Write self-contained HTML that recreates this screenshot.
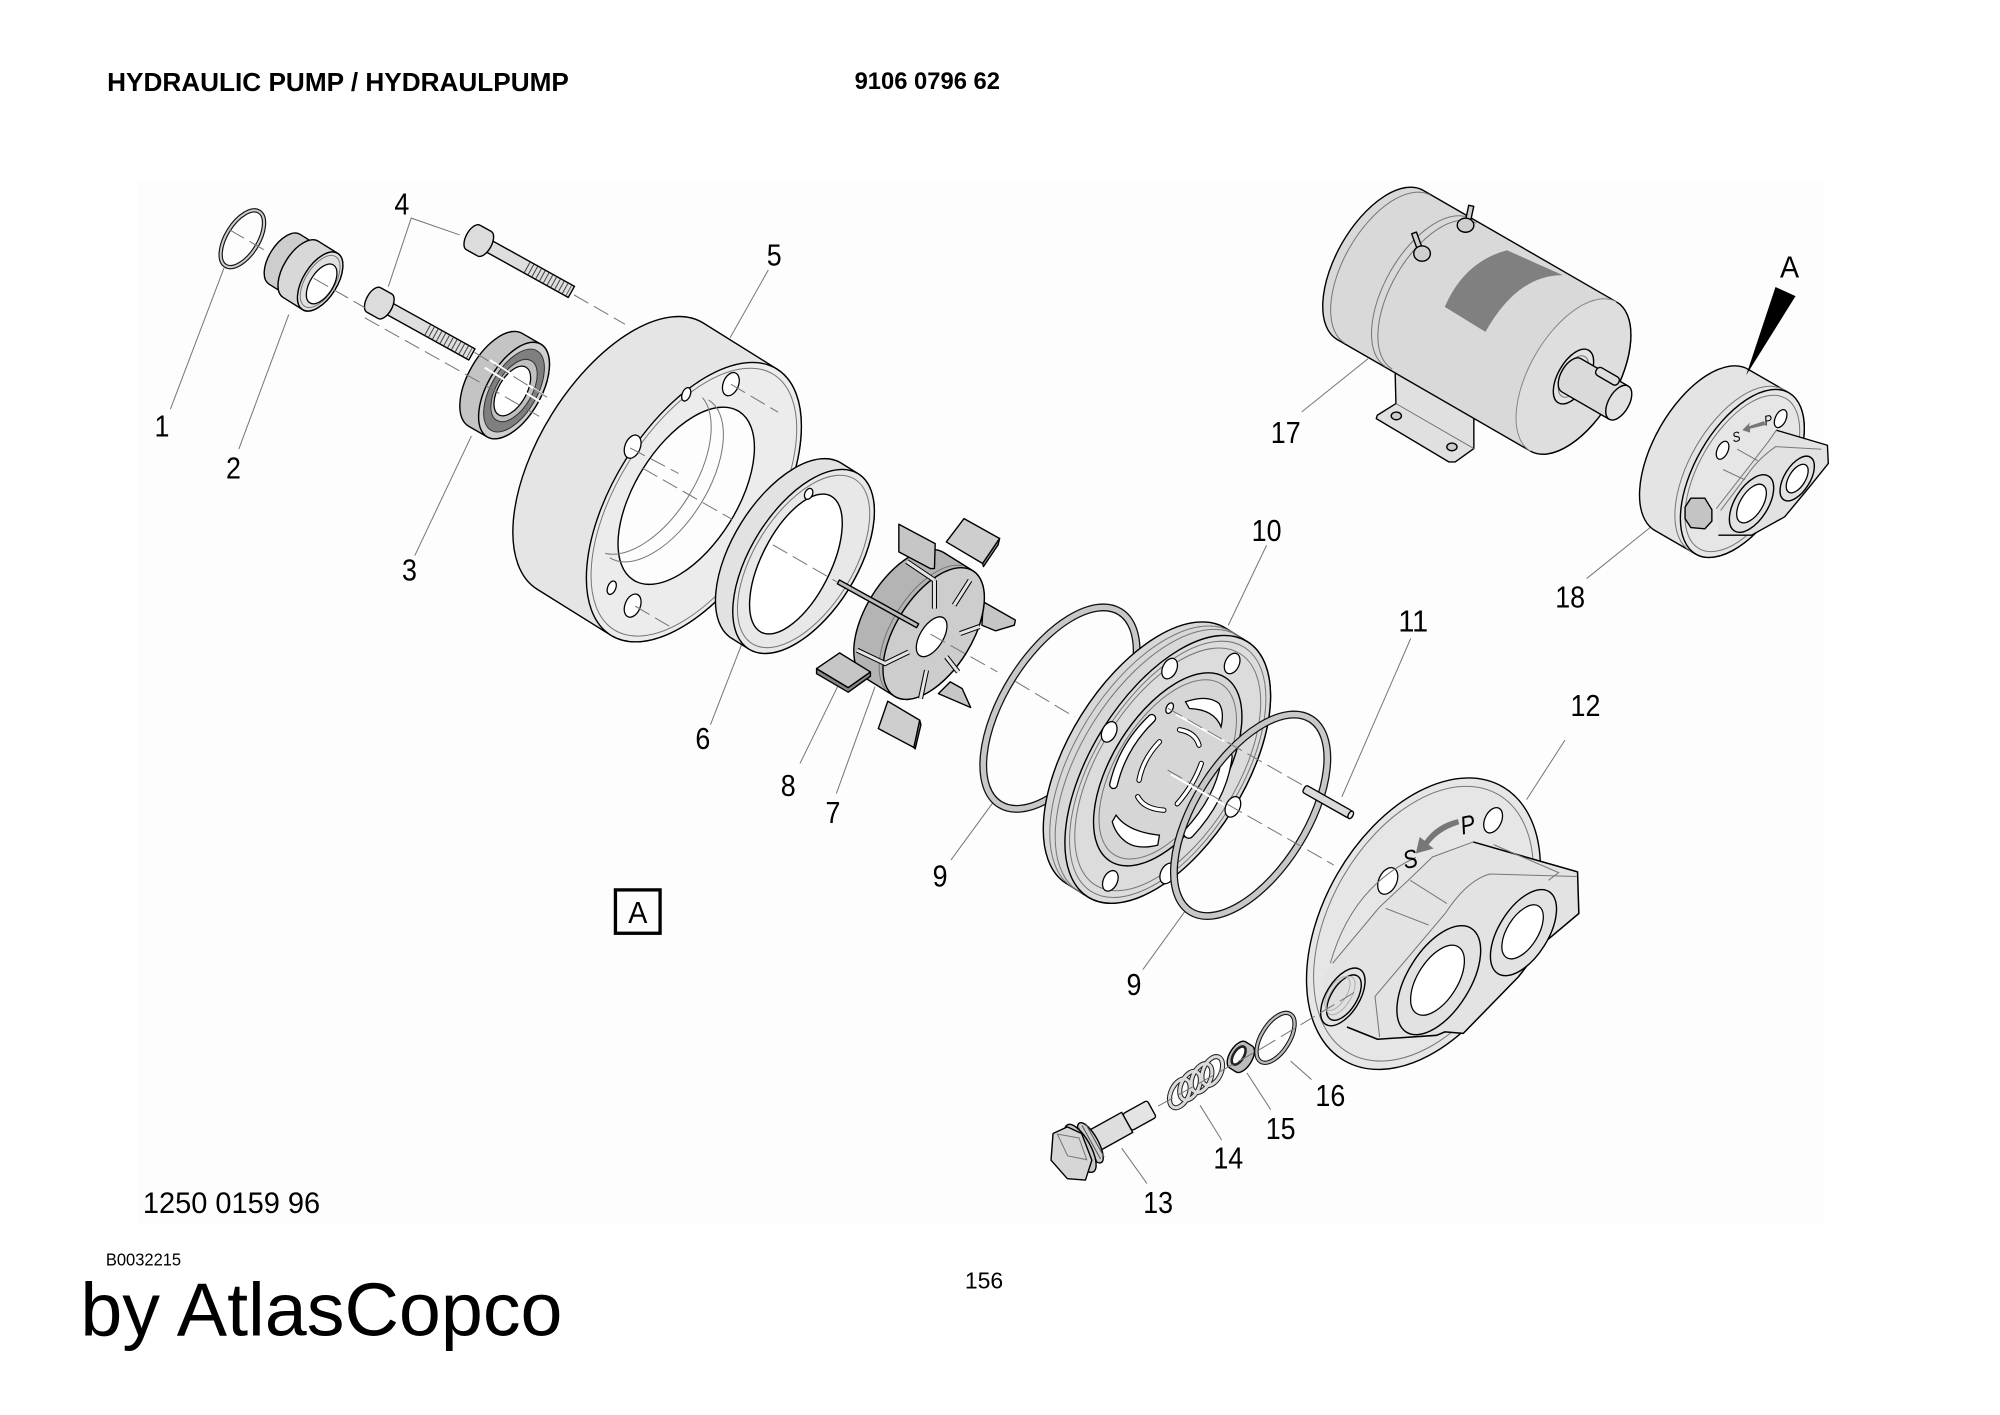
<!DOCTYPE html>
<html><head><meta charset="utf-8"><title>Hydraulic pump</title>
<style>
html,body{margin:0;padding:0;background:#fff}
svg{display:block}
text{font-family:"Liberation Sans",sans-serif;fill:#000}
.o{stroke:#000;stroke-width:1.1;stroke-linejoin:round}
.g{fill:none;stroke:#777;stroke-width:.8}
.l{stroke:#777;stroke-width:.8;fill:none}
.d{stroke:#777;stroke-width:.8;stroke-dasharray:13 5;fill:none}
.w{stroke:#fff;stroke-width:1.6;fill:none}
.h{fill:#fff;stroke:#000;stroke-width:1}
.n{font-size:24px;text-anchor:middle}
</style></head><body>
<svg xmlns="http://www.w3.org/2000/svg" width="2000" height="1415" viewBox="0 0 1568 1109">
<rect width="1568" height="1109" fill="#fff"/>
<rect x="108" y="140" width="1322" height="820" fill="#fdfdfd"/>

<!-- leaders -->
<g class="l">
<path d="M175.6 210L133.6 320.6M226.4 246.4L187.2 352M369.6 341.6L325.2 435.4M360.4 184L322.4 170.8L304.4 224.6M602.4 211.4L572.4 264.6M582.4 502.6L557 568M686 538.3L655.7 622M656.6 538.3L627.2 598.4M780 627L745.6 674M993 427.3L963 490M1106 500.4L1052 624.6M1227 580L1196.8 626.7M929.6 713.5L896 760M879.4 900L899.2 927.7M940.8 866.3L957.8 893.7M977.6 841L996.2 869.7M1011.8 831.6L1028.2 846.2M1072.6 281L1020.6 322.7M1295.9 411.6L1243.9 453.4"/>
</g>

<!-- part 1 -->
<g transform="translate(190,187) rotate(32)"><ellipse rx="12.6" ry="25" fill="none" stroke="#111" stroke-width="3.4"/><ellipse rx="12.6" ry="25" fill="none" stroke="#ccc" stroke-width="1.6"/></g>

<!-- part 2 -->
<g transform="translate(251,220.5) rotate(32)">
<path class="o" fill="#cdcdcd" d="M-33,-23 A12,23 0 0 0 -33,23 L-16,23 L-16,-23Z"/>
<path class="o" fill="#d8d8d8" d="M-18,-26 A13.3,26 0 0 0 -18,26 L0,26 A13.3,26 0 0 0 0,-26Z"/>
<ellipse class="o" rx="13.3" ry="26" fill="#e0e0e0"/>
<ellipse class="g" rx="11.5" ry="23"/>
<ellipse class="h" cx="2" cy="1" rx="9" ry="17.5" fill="#fafafa"/>
</g>

<!-- bolts -->
<g transform="translate(371,186) rotate(29)">
<rect class="o" x="10" y="-5" width="78" height="10" fill="#dedede"/>
<line x1="48" x2="86" y1="0" y2="0" stroke="#444" stroke-width="9" stroke-dasharray=".8 2.6"/>
<path class="o" fill="#dcdcdc" d="M0,-11 A5.6,11 0 0 0 0,11 L10,11 A5.6,11 0 0 0 10,-11Z"/>
</g>
<g transform="translate(293,235) rotate(29)">
<rect class="o" x="10" y="-5" width="78" height="10" fill="#dedede"/>
<line x1="48" x2="86" y1="0" y2="0" stroke="#444" stroke-width="9" stroke-dasharray=".8 2.6"/>
<path class="o" fill="#dcdcdc" d="M0,-11 A5.6,11 0 0 0 0,11 L10,11 A5.6,11 0 0 0 10,-11Z"/>
</g>

<!-- part 5 -->
<g transform="translate(544,393.5) rotate(32)">
<path class="o" fill="#e5e5e5" stroke-width="1.3" d="M-68,-123 A63,123 0 0 0 -68,123 L0,123 A63,123 0 0 0 0,-123Z"/>
<ellipse class="o" rx="63" ry="123" fill="#ececec"/>
<ellipse class="g" rx="60" ry="118"/>
</g>
<g transform="translate(538,388.5) rotate(32)">
<ellipse class="o" rx="40" ry="78" fill="#fdfdfd"/>
<path class="g" d="M-25,-73 A38,73 0 0 1 -25,73M-30,-72 A38,73 0 0 1 -30,72"/>
</g>
<g class="h">
<ellipse transform="translate(496,350) rotate(22)" rx="6" ry="9.5"/>
<ellipse transform="translate(573,301) rotate(22)" rx="6" ry="9.5"/>
<ellipse transform="translate(496,474.6) rotate(22)" rx="6" ry="9.5"/>
<ellipse transform="translate(538,309) rotate(22)" rx="3.2" ry="5.5"/>
<ellipse transform="translate(479.6,460.6) rotate(22)" rx="3.2" ry="5.5"/>
</g>

<!-- part 3 -->
<g transform="translate(403,306) rotate(30)">
<path class="o" fill="#c4c4c4" d="M-17,-42 A21,42 0 0 0 -17,42 L0,42 A21,42 0 0 0 0,-42Z"/>
<ellipse class="o" rx="21" ry="42" fill="#cfcfcf"/>
<ellipse rx="18" ry="36" fill="#7f7f7f" stroke="#333" stroke-width=".8"/>
<ellipse rx="14" ry="27" fill="#c0c0c0" stroke="#333" stroke-width=".8"/>
<ellipse class="h" cx="-1" cy="1" rx="11" ry="21.5"/>
</g>

<!-- part 6 -->
<g transform="translate(630,440) rotate(32)">
<path class="o" fill="#e2e2e2" stroke-width="1.2" d="M-16,-81 A41.5,81 0 0 0 -16,81 L0,81 A41.5,81 0 0 0 0,-81Z"/>
<ellipse class="o" rx="41.5" ry="81" fill="#e8e8e8"/>
<ellipse class="g" rx="38.5" ry="76"/>
</g>
<g transform="translate(624,442) rotate(27)">
<ellipse class="o" rx="27" ry="60" fill="#fff"/>
</g>
<ellipse class="h" transform="translate(634,387) rotate(25)" rx="3" ry="4.5" fill="#ccc"/>

<!-- part 7 / 8 rotor -->
<g class="o" fill="#c6c6c6">
<polygon points="771,471.7 796.1,486 795.2,490 780.6,494.4 769.8,490"/>
<polygon points="745,534.4 754.3,539.6 761,554.5 735.7,543.6"/>
<polygon points="755.8,406.4 783.7,422 770.4,441.6 741.9,424.7" fill="#cecece"/>
<polygon points="783.7,422 782.5,427 771,444 770.4,441.6" fill="#999"/>
<polygon points="696,549.6 721.1,564.5 716.5,585.9 688.6,571" fill="#cecece"/>
<polygon points="721.1,564.5 722,568 717.5,587 716.5,585.9" fill="#999"/>
</g>
<g transform="translate(732,496.5) rotate(32)">
<path class="o" fill="#b4b4b4" d="M-27,-58 A29.7,58 0 0 0 -27,58 L0,58 A29.7,58 0 0 0 0,-58Z"/>
<path class="g" d="M-9,-57 A29.7,58 0 0 0 -9,57"/>
<ellipse class="o" rx="29.7" ry="58" fill="#cdcdcd"/>
<ellipse class="h" cx="0" cy="3" rx="9" ry="17.5" fill="#ececec"/>
</g>
<g fill="none">
<path stroke="#000" stroke-width="4" d="M732.6 454.7L732.6 477M760.5 454.7L748 474.3M768 491L752.7 496.5M741.9 514.8L751.2 526.6M726.4 525.3L721.7 547.5M712.4 511L693.9 520L672 509.6M710.9 440L732.6 454.7"/>
<path stroke="#e4e4e4" stroke-width="2.4" d="M732.6 454.7L732.6 477M760.5 454.7L748 474.3M768 491L752.7 496.5M741.9 514.8L751.2 526.6M726.4 525.3L721.7 547.5M712.4 511L693.9 520L672 509.6M710.9 440L732.6 454.7"/>
</g>
<g class="o" fill="#c6c6c6">
<polygon points="704.7,410.8 733.2,426 732.6,445.6 729.5,445.6 704.7,432.5"/>
<polygon points="682.4,526.6 665,538.9 640.2,524 640.2,528 665,542.5 682.4,530" fill="#888"/>
<polygon points="658.2,511.7 682.4,526.6 665,538.9 640.2,524"/>
</g>
<g transform="translate(657.3,456) rotate(29)"><rect class="o" width="71" height="3.4" y="-1.7" fill="#bbb"/></g>

<!-- part 9 left ring -->
<g transform="translate(831,555) rotate(32)"><ellipse rx="44" ry="89" fill="none" stroke="#111" stroke-width="6.2"/><ellipse rx="44" ry="89" fill="none" stroke="#c8c8c8" stroke-width="4.2"/></g>

<!-- part 10 plate -->
<g transform="translate(915.5,603) rotate(32)">
<path class="o" fill="#d8d8d8" stroke-width="1.2" d="M-20,-118 A60,118 0 0 0 -20,118 L0,118 A60,118 0 0 0 0,-118Z"/>
<ellipse class="g" cx="-14" rx="60" ry="118"/>
<ellipse class="g" cx="-9" rx="60" ry="118"/>
<ellipse class="o" rx="60" ry="118" fill="#dcdcdc"/>
<ellipse class="g" rx="57" ry="113"/>
<ellipse class="g" rx="54" ry="107"/>
<ellipse class="o" rx="43.4" ry="85" fill="#d6d6d6"/>
<ellipse class="g" rx="40" ry="79"/>
</g>
<g class="h">
<ellipse transform="translate(917,524) rotate(25)" rx="5.5" ry="8.5"/>
<ellipse transform="translate(966,520) rotate(25)" rx="5.5" ry="8.5"/>
<ellipse transform="translate(869.6,573.6) rotate(25)" rx="5.5" ry="8.5"/>
<ellipse transform="translate(870.5,690.4) rotate(25)" rx="5.5" ry="8.5"/>
<ellipse transform="translate(915.5,684.6) rotate(25)" rx="5.5" ry="8.5"/>
<ellipse transform="translate(966.6,632.4) rotate(25)" rx="5.5" ry="8.5"/>
<ellipse transform="translate(917,555) rotate(25)" rx="2.6" ry="4.4"/>
<path d="M929.4 550Q947 544 955.8 551.4Q960 558 957.3 569.7Q952 556 932.5 555.3Z"/>
<path d="M875 638.9Q884 652 909 654.6L907.7 662.4Q893 666 884.5 661Q875 655 872 644Z"/>
</g>
<g fill="none" stroke-linecap="round">
<path stroke="#000" stroke-width="7" d="M903 563Q880 585 873 615"/>
<path stroke="#fff" stroke-width="5" d="M903 563Q880 585 873 615"/>
<path stroke="#000" stroke-width="4.2" d="M909 581.4Q896 595 893 611.5M924.8 572Q937 574 940 584M892 624.5Q897 634 912.4 635M941.8 598.4Q936 615 923 630"/>
<path stroke="#fff" stroke-width="2.6" d="M909 581.4Q896 595 893 611.5M924.8 572Q937 574 940 584M892 624.5Q897 634 912.4 635M941.8 598.4Q936 615 923 630"/>
<path stroke="#000" stroke-width="9" d="M962 593Q958 625 932 653"/>
<path stroke="#fff" stroke-width="7" d="M962 593Q958 625 932 653"/>
</g>

<!-- part 9 right ring -->
<g transform="translate(980.5,639) rotate(32)"><ellipse rx="44" ry="89" fill="none" stroke="#111" stroke-width="6.2"/><ellipse rx="44" ry="89" fill="none" stroke="#c8c8c8" stroke-width="4.2"/></g>

<!-- part 11 pin -->
<g transform="translate(1022.4,618) rotate(29.5)">
<rect class="o" width="42" height="6.4" y="-3.2" rx="2" fill="#dadada"/>
<ellipse class="o" cx="42" rx="1.8" ry="3.2" fill="#eee"/>
</g>

<!-- part 12 cover -->
<g transform="translate(1116,724) rotate(30)">
<ellipse class="o" rx="78" ry="124" fill="#e6e6e6" stroke-width="1.3"/>
<ellipse class="g" rx="73" ry="117"/>
</g>
<g class="h">
<ellipse transform="translate(1170.6,642.9) rotate(25)" rx="6.5" ry="10.5"/>
<ellipse transform="translate(1088,690.5) rotate(25)" rx="7" ry="11"/>
</g>
<polygon fill="#e3e3e3" points="1155,659.9 1236.8,683.4 1237.8,716 1212.8,737 1190.4,765.7 1147.2,810 1132.8,808.8 1126.4,811.5 1080,814.6 1056,805 1043,794 1036.8,768 1044.8,755 1081.6,710.9 1104,690 1123,671.7"/>
<path fill="none" stroke="#000" stroke-width="1.2" stroke-linejoin="round" d="M1155 659.9L1236.8 683.4L1237.8 716L1212.8 737L1190.4 765.7L1147.2 810L1132.8 808.8L1126.4 811.5L1080 814.6L1056 805"/>
<g class="g">
<path d="M1044.8 755L1081.6 710.9L1104 690L1123 671.7L1155 659.9"/>
<path d="M1043 755Q1060 695 1110 672"/>
<path d="M1105.6 690L1134.4 708.2M1086.4 712L1120 725"/>
<path d="M1236 687L1168 685Q1150 690 1133 716L1078 781L1081.6 812.8"/>
<path d="M1171 662L1222 684L1214 690"/>
</g>
<g transform="translate(1128,768.3) rotate(32)"><ellipse class="o" rx="24.5" ry="48" fill="#e2e2e2"/></g>
<g transform="translate(1127,768.3) rotate(32)"><ellipse class="h" rx="15.7" ry="30.8" stroke="#444"/></g>
<g transform="translate(1194.4,731) rotate(32)"><ellipse class="o" rx="19.3" ry="37.9" fill="#e2e2e2"/></g>
<g transform="translate(1193.7,730.4) rotate(32)"><ellipse class="h" rx="12.1" ry="23.8" stroke="#444"/></g>
<g transform="translate(1052.8,781.4) rotate(32)">
<ellipse class="o" rx="13" ry="25.4" fill="#e4e4e4"/>
<ellipse class="o" cx="1" rx="10" ry="20" fill="#e0e0e0"/>
<ellipse cx="-2" rx="8" ry="17" fill="none" stroke="#aaa" stroke-width=".7"/><ellipse cx="-5" rx="7" ry="15" fill="none" stroke="#aaa" stroke-width=".7"/>
</g>
<path d="M1144 646Q1128 651 1120 662L1124 665L1110 669L1113 656L1117 659Q1126 646 1143 642Z" fill="#777"/>
<text transform="translate(1107,680) rotate(-12) scale(.85,1)" font-size="20" text-anchor="middle" font-style="italic">S</text>
<text transform="translate(1152,653) rotate(-12) scale(.85,1)" font-size="20" text-anchor="middle" font-style="italic">P</text>

<!-- part 13 -->
<g transform="translate(840,904) rotate(-29)">
<rect class="o" x="50" y="-7.5" width="22" height="15" rx="2" fill="#e4e4e4"/>
<rect class="o" x="22" y="-9" width="28" height="18" fill="#dedede"/>
<ellipse class="o" cx="17" rx="6" ry="17.7" fill="#cfcfcf"/>
<line x1="11" x2="23" y1="0" y2="0" stroke="#555" stroke-width="30" stroke-dasharray=".8 2.4"/>
<ellipse class="o" cx="8" rx="8" ry="21" fill="#c8c8c8"/>
</g>
<polygon class="o" fill="#d6d6d6" points="825.6,888.5 836.8,883.3 848,888.5 856,909.4 851,925 836.8,923.9 824,909.4"/>
<path class="g" d="M829 889L846 892L852 909L837 906Z"/>

<!-- part 14 spring -->
<g fill="none">
<g stroke="#222" stroke-width="4">
<ellipse transform="translate(950.4,839.5) rotate(25)" rx="7" ry="12"/>
<ellipse transform="translate(942,845) rotate(25)" rx="7" ry="12"/>
<ellipse transform="translate(933,851) rotate(25)" rx="7" ry="12"/>
<ellipse transform="translate(925,857) rotate(25)" rx="7" ry="12"/>
</g>
<g stroke="#dcdcdc" stroke-width="2.4">
<ellipse transform="translate(950.4,839.5) rotate(25)" rx="7" ry="12"/>
<ellipse transform="translate(942,845) rotate(25)" rx="7" ry="12"/>
<ellipse transform="translate(933,851) rotate(25)" rx="7" ry="12"/>
<ellipse transform="translate(925,857) rotate(25)" rx="7" ry="12"/>
</g>
</g>
<!-- part 15 -->
<g transform="translate(972.8,828.4) rotate(32)">
<path class="o" fill="#bbb" d="M-3,-12 A6,12 0 0 0 -3,12 L3,12 A6,12 0 0 0 3,-12Z"/>
<ellipse cx="-2" rx="4" ry="8" fill="#fff" stroke="#222" stroke-width="2"/>
</g>
<!-- part 16 -->
<g transform="translate(1000,813.5) rotate(32)"><ellipse rx="11" ry="22" fill="none" stroke="#111" stroke-width="3.4"/><ellipse rx="11" ry="22" fill="none" stroke="#bbb" stroke-width="1.8"/></g>

<!-- part 17 motor -->
<polygon class="o" fill="#e0e0e0" points="1093.7,287.5 1094.4,316.2 1079.8,325.4 1079,328 1136,362 1140.9,362 1155.5,351.5 1155.5,322.8"/>
<path class="g" d="M1094.4 316.2L1155.5 351.5"/>
<ellipse class="o" cx="1094.7" cy="325.9" rx="4" ry="3" fill="#ccc"/><ellipse class="o" cx="1138.3" cy="350.2" rx="4" ry="3" fill="#ccc"/>
<g transform="translate(1233.6,295) rotate(30)">
<path class="o" fill="#d9d9d9" stroke-width="1.3" d="M-175,-67.5 A34.4,67.5 0 0 0 -175,67.5 L0,67.5 A34.4,67.5 0 0 0 0,-67.5Z"/>
<path class="g" d="M-168,-67 A34,66 0 0 0 -168,67M-131,-67 A34,66 0 0 0 -131,67M-126,-66 A34,66 0 0 0 -126,66"/>
<ellipse rx="34.4" ry="67.5" fill="#dedede" stroke="#888" stroke-width=".8"/>
<path class="o" fill="none" d="M0,-67.5 A34.4,67.5 0 0 1 0,67.5"/>
<ellipse class="o" cx="0" cy="0" rx="12" ry="23.8" fill="#e4e4e4"/>
<ellipse class="g" cx="0" cy="0" rx="9" ry="18"/>
<path class="o" fill="#dadada" d="M-2,-15 L40,-15 A8,15 0 0 1 40,15 L-2,15 A8,15 0 0 1 -2,-15Z"/>
<ellipse class="o" cx="41" rx="8" ry="15" fill="#e2e2e2"/>
<rect class="o" x="13" y="-17" width="20" height="7" rx="3" fill="#ddd"/>
</g>
<path fill="#808080" d="M1132.7 240.4Q1148 205 1181.5 196L1225.4 215.6Q1190 215 1164.6 260Z"/>
<g class="o" fill="#cfcfcf">
<rect x="1150" y="161" width="4" height="14" transform="rotate(12 1152 168)"/>
<rect x="1109" y="182" width="4" height="14" transform="rotate(-20 1111 189)"/>
<ellipse cx="1149" cy="176.4" rx="6.5" ry="5.5"/><ellipse cx="1114.9" cy="198.6" rx="6.5" ry="6"/>
</g>

<!-- part 18 -->
<g transform="translate(1366,371) rotate(30)">
<path class="o" fill="#e4e4e4" stroke-width="1.2" d="M-37,-73 A37,73 0 0 0 -37,73 L0,73 A37,73 0 0 0 0,-73Z"/>
<ellipse class="g" cx="-5" rx="37" ry="73"/>
<ellipse class="o" rx="37" ry="73" fill="#e6e6e6"/>
<ellipse class="g" rx="34" ry="68"/>
</g>
<g class="h">
<ellipse transform="translate(1350.5,352.8) rotate(25)" rx="4.2" ry="7.5"/>
<ellipse transform="translate(1396,328) rotate(25)" rx="4.2" ry="7.5"/>
</g>
<polygon fill="#e2e2e2" points="1392.7,337.1 1432.7,348.9 1433.4,363.2 1418.7,381.5 1399.2,405 1373.2,419.4 1347.2,419.4 1345.6,398.5 1373.2,363.2 1386.2,346.3"/>
<path fill="none" stroke="#000" stroke-width="1.1" stroke-linejoin="round" d="M1392.7 337.1L1432.7 348.9L1433.4 363.2L1418.7 381.5L1399.2 405L1373.2 419.4L1347.2 419.4"/>
<g class="g"><path d="M1345.6 398.5L1373.2 363.2L1386.2 346.3L1392.7 337.1"/><path d="M1362 352L1378 361M1351 368L1368 376"/><path d="M1428 352L1392 350Q1378 360 1370 372L1349 400"/></g>
<g transform="translate(1373.2,394.6) rotate(32)"><ellipse class="o" rx="13" ry="25.3" fill="#e2e2e2"/><ellipse class="h" rx="8.7" ry="17"/></g>
<g transform="translate(1409,375) rotate(32)"><ellipse class="o" rx="10" ry="19.7" fill="#e2e2e2"/><ellipse class="h" rx="6.4" ry="12.6"/></g>
<g transform="translate(1331.6,402.4)"><polygon class="o" fill="#c4c4c4" points="-6,-12 5,-12 10.5,-3 10.5,6 5,12 -6,11 -10.5,4 -10.5,-5"/></g>
<path d="M1383 330L1371 334L1372 331L1366 337L1372 339L1372 336L1384 333Z" fill="#777"/>
<text transform="translate(1362,346) rotate(-12) scale(.85,1)" font-size="11" text-anchor="middle" font-style="italic">S</text>
<text transform="translate(1387,333) rotate(-12) scale(.85,1)" font-size="11" text-anchor="middle" font-style="italic">P</text>
<polygon points="1392,224.8 1407.7,232 1369,294" fill="#000"/>

<!-- center lines -->
<g class="w">
<path d="M380 288L432 320M384 282L430 312"/>
<path d="M922 560L960 581M918 607L960 631M1026 664L1036 670"/>
</g>
<g class="d">
<path d="M180 180L210 197.4M246 218L286 241"/>
<path d="M286 249L370 296L424 327M372 276L430 312"/>
<path d="M450 231L490 254M573 301L610 323M498 475L526 491.5M494 351L532 371"/>
<path d="M504 367L574 407M606 427L656 456M729.5 497L782 526.6M796 534L842.6 562"/>
<path d="M915.5 603.6L1045.7 678"/>
<path d="M915.5 555L1024 617"/>
<path d="M908 867L988.8 821.9M988.8 821.9L1062.4 777.5"/>
</g>

<!-- labels -->
<g>
<text class="n" x="127" y="342" textLength="11.7" lengthAdjust="spacingAndGlyphs">1</text>
<text class="n" x="183" y="375" textLength="11.7" lengthAdjust="spacingAndGlyphs">2</text>
<text class="n" x="321" y="455" textLength="11.7" lengthAdjust="spacingAndGlyphs">3</text>
<text class="n" x="315" y="168" textLength="11.7" lengthAdjust="spacingAndGlyphs">4</text>
<text class="n" x="607" y="208" textLength="11.7" lengthAdjust="spacingAndGlyphs">5</text>
<text class="n" x="551" y="587" textLength="11.7" lengthAdjust="spacingAndGlyphs">6</text>
<text class="n" x="653" y="645" textLength="11.7" lengthAdjust="spacingAndGlyphs">7</text>
<text class="n" x="618" y="624" textLength="11.7" lengthAdjust="spacingAndGlyphs">8</text>
<text class="n" x="737" y="695" textLength="11.7" lengthAdjust="spacingAndGlyphs">9</text>
<text class="n" x="889" y="780" textLength="11.7" lengthAdjust="spacingAndGlyphs">9</text>
<text class="n" x="993" y="424" textLength="23.4" lengthAdjust="spacingAndGlyphs">10</text>
<text class="n" x="1108" y="495" textLength="23.4" lengthAdjust="spacingAndGlyphs">11</text>
<text class="n" x="1243" y="561" textLength="23.4" lengthAdjust="spacingAndGlyphs">12</text>
<text class="n" x="908" y="951" textLength="23.4" lengthAdjust="spacingAndGlyphs">13</text>
<text class="n" x="963" y="916" textLength="23.4" lengthAdjust="spacingAndGlyphs">14</text>
<text class="n" x="1004" y="893" textLength="23.4" lengthAdjust="spacingAndGlyphs">15</text>
<text class="n" x="1043" y="867" textLength="23.4" lengthAdjust="spacingAndGlyphs">16</text>
<text class="n" x="1008" y="347" textLength="23.4" lengthAdjust="spacingAndGlyphs">17</text>
<text class="n" x="1231" y="476" textLength="23.4" lengthAdjust="spacingAndGlyphs">18</text>
<text class="n" x="1403" y="217.5" textLength="15" lengthAdjust="spacingAndGlyphs">A</text>
</g>
<rect x="482.5" y="697.5" width="35" height="34" fill="none" stroke="#000" stroke-width="2.6"/>
<text class="n" x="500" y="723.5" textLength="15" lengthAdjust="spacingAndGlyphs">A</text>

<text x="84" y="71" font-size="20.5" font-weight="bold" textLength="362" lengthAdjust="spacingAndGlyphs">HYDRAULIC PUMP / HYDRAULPUMP</text>
<text x="670" y="69.5" font-size="19" font-weight="bold" textLength="114" lengthAdjust="spacingAndGlyphs">9106 0796 62</text>
<text x="112" y="950.8" font-size="23.5" textLength="139" lengthAdjust="spacingAndGlyphs">1250 0159 96</text>
<text x="83" y="991.8" font-size="13.5" textLength="59" lengthAdjust="spacingAndGlyphs">B0032215</text>
<text x="63" y="1046.7" font-size="59" textLength="378" lengthAdjust="spacingAndGlyphs">by AtlasCopco</text>
<text x="771.5" y="1010" font-size="18" text-anchor="middle">156</text>
</svg>
</body></html>
